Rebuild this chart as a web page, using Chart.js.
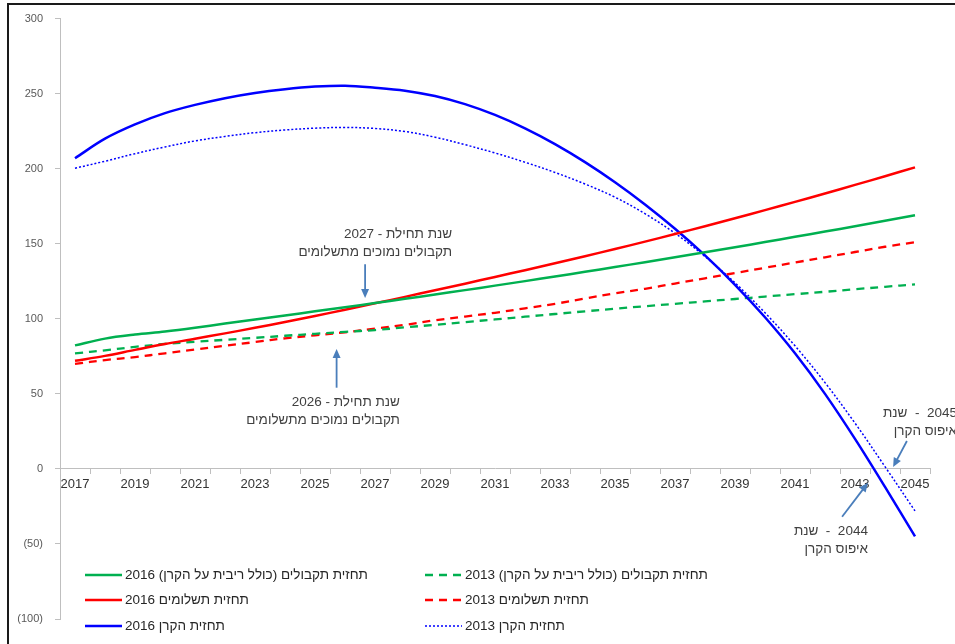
<!DOCTYPE html>
<html lang="he">
<head>
<meta charset="utf-8">
<script src="https://cdn.jsdelivr.net/npm/chart.js@4.4.1/dist/chart.umd.min.js"></script>
<style>
    body { margin: 0; background: #fff; }
    #wrap { position: relative; width: 955px; height: 644px; overflow: hidden; }
    #my-chart { position: absolute; left: 0; top: 0; }
    #frame { position: absolute; left: 7px; top: 3px; right: -10px; bottom: -10px;
             border-left: 2px solid #1a1a1a; border-top: 2px solid #1a1a1a; pointer-events: none; }
</style>
</head>
<body>
<div id="wrap">
    <canvas id="my-chart" width="955" height="644"></canvas>
    <div id="frame"></div>
</div>
<script>
const years = ['2017', '2018', '2019', '2020', '2021', '2022', '2023', '2024', '2025', '2026',
    '2027', '2028', '2029', '2030', '2031', '2032', '2033', '2034', '2035', '2036',
    '2037', '2038', '2039', '2040', '2041', '2042', '2043', '2044', '2045'];

// 2016 forecast
const receipts2016 = [82.3, 86.8, 89.5, 91.5, 94, 96.8, 99.5, 102.2, 105, 107.7, 110.5, 113.3, 116.2, 119.1, 122.1,
    125.1, 128.2, 131.3, 134.5, 137.7, 141, 144.3, 147.7, 151.1, 154.6, 158.1, 161.7, 165.3, 169];
const payments2016 = [72, 75.3, 79.3, 83.2, 86.7, 90.3, 94, 97.9, 101.9, 106, 110.3, 114.6, 119, 123.4, 127.9,
    132.4, 137, 141.7, 146.5, 151.4, 156.5, 161.7, 167, 172.4, 177.9, 183.5, 189.2, 195, 200.9];
const principal2016 = [207, 220, 229.5, 237, 242.5, 247, 250.5, 253, 254.7, 255.3, 254, 252, 248.4, 243, 235.8,
    226.9, 216.4, 204.4, 191, 176.2, 160, 142.2, 122.6, 101, 77, 50, 20, -12, -45];

// 2013 forecast
const receipts2013 = [77, 79, 81.3, 83.3, 84.7, 86, 87.3, 88.7, 90, 91.3, 92.5, 94.3, 96, 97.8, 99.6,
    101.4, 103.2, 105, 106.7, 108.4, 110, 111.6, 113.2, 114.8, 116.4, 118, 119.7, 121.3, 123];
const payments2013 = [70, 72.5, 74.5, 77, 79.5, 82, 84.5, 87, 89, 91, 93.5, 96, 99, 101.5, 104,
    107, 110, 113.5, 117, 120, 123.5, 127, 130.5, 134, 137.5, 141, 144.5, 148, 151];
const principal2013 = [200.3, 205, 210, 214.5, 218.5, 221.5, 224, 225.8, 227, 227.5, 226.8, 224.8, 221, 216, 210.5,
    204.3, 197.5, 189.8, 181, 170, 157, 141.5, 124, 104, 82, 57.5, 30.5, 1.5, -28];

const seriesNames = [
    'תחזית תקבולים (כולל ריבית על הקרן) 2016',
    'תחזית תשלומים 2016',
    'תחזית הקרן 2016',
    'תחזית תקבולים (כולל ריבית על הקרן) 2013',
    'תחזית תשלומים 2013',
    'תחזית הקרן 2013'
];

// callouts: text anchor (right edge, first line) and arrow from/to, in [year, value]
const notes = [
    { lines: ['שנת תחילת - 2027', 'תקבולים נמוכים מתשלומים'], text: [2029.57, 156.4], from: [2026.67, 136.4], to: [2026.67, 113.8] },
    { lines: ['שנת תחילת - 2026', 'תקבולים נמוכים מתשלומים'], text: [2027.83, 44.1], from: [2025.72, 54.1], to: [2025.72, 79.8] },
    { lines: ['2044  -  שנת', 'איפוס הקרן'], text: [2043.43, -41.3], from: [2042.57, -31.9], to: [2043.43, -9.3] },
    { lines: ['2045  -  שנת', 'איפוס הקרן'], text: [2046.4, 36.8], from: [2044.73, 18.6], to: [2044.27, 1.3] }
];

const FONT = '"Liberation Sans", Arial, sans-serif';

function drawArrow(ctx, x1, y1, x2, y2) {
    const ang = Math.atan2(y2 - y1, x2 - x1);
    const head = 9;
    ctx.strokeStyle = '#4a7ebb';
    ctx.fillStyle = '#4a7ebb';
    ctx.lineWidth = 1.8;
    ctx.setLineDash([]);
    ctx.beginPath();
    ctx.moveTo(x1, y1);
    ctx.lineTo(x2 - Math.cos(ang) * head * 0.8, y2 - Math.sin(ang) * head * 0.8);
    ctx.stroke();
    ctx.beginPath();
    ctx.moveTo(x2, y2);
    ctx.lineTo(x2 - head * Math.cos(ang) + 4 * Math.sin(ang), y2 - head * Math.sin(ang) - 4 * Math.cos(ang));
    ctx.lineTo(x2 - head * Math.cos(ang) - 4 * Math.sin(ang), y2 - head * Math.sin(ang) + 4 * Math.cos(ang));
    ctx.closePath();
    ctx.fill();
}

const notesPlugin = {
    id: 'notes',
    afterDatasetsDraw(chart) {
        const { ctx, scales } = chart;
        const px = yr => scales.x.getPixelForValue(yr - 2017);
        const py = v => scales.y.getPixelForValue(v);
        ctx.save();
        notes.forEach(n => {
            ctx.font = '13.5px ' + FONT;
            ctx.fillStyle = '#404040';
            ctx.direction = 'rtl';
            ctx.textAlign = 'right';
            ctx.textBaseline = 'middle';
            n.lines.forEach((line, i) => {
                ctx.fillText(line, px(n.text[0]), py(n.text[1]) + i * 18);
            });
            drawArrow(ctx, px(n.from[0]), py(n.from[1]), px(n.to[0]), py(n.to[1]));
        });
        ctx.restore();
    }
};

const legendCols = [85, 425];
const legendRows = [575, 600, 626];

const legendPlugin = {
    id: 'gridLegend',
    afterDraw(chart) {
        const ctx = chart.ctx;
        ctx.save();
        chart.data.datasets.forEach((ds, i) => {
            const x0 = legendCols[i < 3 ? 0 : 1];
            const y0 = legendRows[i % 3];
            ctx.strokeStyle = ds.borderColor;
            ctx.lineWidth = ds.borderWidth;
            ctx.setLineDash(ds.borderDash || []);
            ctx.beginPath();
            ctx.moveTo(x0, y0);
            ctx.lineTo(x0 + 37, y0);
            ctx.stroke();
            ctx.setLineDash([]);
            ctx.font = '13.5px ' + FONT;
            ctx.fillStyle = '#262626';
            ctx.direction = 'rtl';
            ctx.textAlign = 'left';
            ctx.textBaseline = 'middle';
            ctx.fillText(ds.label, x0 + 40, y0);
        });
        ctx.restore();
    }
};

function makeSet(label, data, color, width, dash) {
    return {
        label: label,
        data: data,
        borderColor: color,
        backgroundColor: color,
        borderWidth: width,
        borderDash: dash,
        pointRadius: 0,
        tension: 0.35,
        fill: false
    };
}

const ctx = document.getElementById('my-chart').getContext('2d');
new Chart(ctx, {
    type: 'line',
    data: {
        labels: years,
        datasets: [
            makeSet(seriesNames[0], receipts2016, '#00b050', 2.5, []),
            makeSet(seriesNames[1], payments2016, '#ff0000', 2.5, []),
            makeSet(seriesNames[2], principal2016, '#0000ff', 2.5, []),
            makeSet(seriesNames[3], receipts2013, '#00b050', 2.3, [8, 6]),
            makeSet(seriesNames[4], payments2013, '#ff0000', 2.3, [8, 6]),
            makeSet(seriesNames[5], principal2013, '#0000ff', 1.5, [2, 2])
        ]
    },
    options: {
        responsive: false,
        animation: false,
        devicePixelRatio: 1,
        layout: { padding: { top: 17, right: 25, bottom: 25, left: 0 } },
        plugins: {
            legend: { display: false },
            tooltip: { enabled: false }
        },
        scales: {
            x: {
                type: 'category',
                position: { y: 0 },
                offset: true,
                grid: { offset: true, drawOnChartArea: false, tickLength: 5, color: '#bfbfbf' },
                border: { color: '#bfbfbf', width: 1 },
                ticks: {
                    autoSkip: false,
                    maxRotation: 0,
                    padding: 3,
                    color: '#333333',
                    font: { family: FONT, size: 13 },
                    callback: (v, i) => (i % 2 === 0 ? years[i] : '')
                }
            },
            y: {
                min: -100,
                max: 300,
                afterFit: scale => { scale.width = 60; },
                grid: { drawOnChartArea: false, tickLength: 5, color: '#bfbfbf' },
                border: { color: '#bfbfbf', width: 1 },
                ticks: {
                    stepSize: 50,
                    padding: 12,
                    color: '#595959',
                    font: { family: FONT, size: 11 },
                    callback: v => (v < 0 ? '(' + Math.abs(v) + ')' : String(v))
                }
            }
        }
    },
    plugins: [notesPlugin, legendPlugin]
});
</script>
</body>
</html>
